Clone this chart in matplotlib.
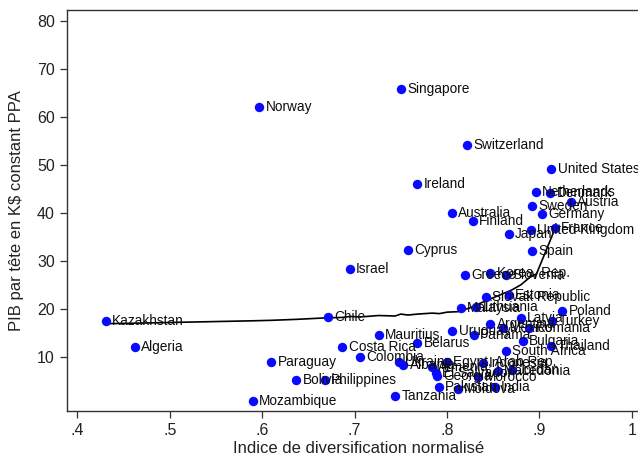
import matplotlib
matplotlib.use("Agg")
import matplotlib.pyplot as plt

# diversification index (x) vs GDP per capita in K$ PPP (y)
countries = [
    "Kazakhstan", "Algeria", "Mozambique", "Norway", "Paraguay", "Bolivia",
    "Philippines", "Chile", "Costa Rica", "Israel", "Colombia", "Mauritius",
    "Tanzania", "Singapore", "Ukraine", "Albania", "Cyprus", "Ireland",
    "Belarus", "Armenia", "El Salvador", "Georgia", "Pakistan",
    "Egypt, Arab Rep.", "Moldova", "Uruguay", "Australia", "Malaysia",
    "Switzerland", "Greece", "Finland", "Panama", "Lithuania", "Indonesia",
    "Morocco", "Slovak Republic", "Argentina", "Korea, Rep.", "India",
    "Jordan", "Mexico", "Slovenia", "South Africa", "Japan", "Estonia",
    "Latvia", "Bulgaria", "Romania", "Macedonia", "United Kingdom", "Spain",
    "Sweden", "Netherlands", "Germany", "United States", "Denmark",
    "Turkey", "Thailand", "France", "Poland", "Austria",
]
diversif = [
    0.431, 0.462, 0.590, 0.597, 0.610, 0.637,
    0.668, 0.671, 0.687, 0.695, 0.706, 0.726,
    0.744, 0.750, 0.748, 0.753, 0.758, 0.768,
    0.768, 0.784, 0.788, 0.789, 0.791,
    0.800, 0.812, 0.806, 0.805, 0.815,
    0.822, 0.820, 0.828, 0.829, 0.832, 0.839,
    0.834, 0.842, 0.847, 0.847, 0.852,
    0.870, 0.861, 0.864, 0.864, 0.867, 0.867,
    0.880, 0.882, 0.889, 0.855, 0.891, 0.892,
    0.892, 0.896, 0.903, 0.913, 0.912,
    0.914, 0.913, 0.917, 0.925, 0.934,
]
pib = [
    17.4, 12.1, 0.8, 62.1, 9.0, 5.2,
    5.2, 18.3, 12.1, 28.4, 10.0, 14.5,
    1.8, 65.9, 9.0, 8.3, 32.2, 46.1,
    12.9, 7.9, 6.6, 5.9, 3.8,
    8.9, 3.2, 15.3, 40.0, 20.1,
    54.2, 27.0, 38.4, 14.5, 20.4, 8.8,
    5.8, 22.5, 16.9, 27.5, 3.8,
    7.2, 16.1, 27.0, 11.2, 35.5, 22.8,
    18.0, 13.3, 15.9, 7.0, 36.5, 32.0,
    41.5, 44.3, 39.8, 49.2, 44.1,
    17.5, 12.3, 36.8, 19.6, 42.2,
]

# smoothed fit, sorted by x
fit_x = [0.431, 0.462, 0.590, 0.610, 0.637, 0.668, 0.687, 0.695, 0.706,
         0.726, 0.744, 0.750, 0.758, 0.768, 0.784, 0.792, 0.800, 0.812,
         0.825, 0.839, 0.855, 0.870, 0.880, 0.890, 0.897, 0.917]
fit_y = [16.9, 17.0, 17.5, 17.6, 17.8, 18.1, 18.2, 18.4, 18.3,
         18.6, 18.5, 18.9, 18.7, 18.9, 19.1, 19.0, 19.3, 19.4,
         20.2, 21.4, 22.7, 23.9, 25.0, 26.6, 27.3, 36.7]

x_ticks = [0.4, 0.5, 0.6, 0.7, 0.8, 0.9, 1.0]
x_labels = [".4", ".5", ".6", ".7", ".8", ".9", "1"]
y_ticks = [10, 20, 30, 40, 50, 60, 70, 80]

plt.rcParams["font.family"] = ["Liberation Sans", "DejaVu Sans"]

fig = plt.figure(figsize=(6.38, 4.57), dpi=100)
ax = fig.add_axes([0.1045, 0.1007, 0.9146, 0.8775])

ax.scatter(diversif, pib, s=46, color="#0a0aff", zorder=3, linewidths=0)
for name, xv, yv in zip(countries, diversif, pib):
    ax.annotate(name, (xv, yv), xytext=(4.5, 0), textcoords="offset points",
                ha="left", va="center", fontsize=9.8, color="#0d0d0d", zorder=4)

ax.plot(fit_x, fit_y, color="black", linewidth=1.2, zorder=2)

ax.set_xlim(0.3885, 1.02)
ax.set_ylim(-1.3, 82.3)
ax.set_xticks(x_ticks)
ax.set_xticklabels(x_labels)
ax.set_yticks(y_ticks)
ax.tick_params(axis="both", direction="out", length=5, width=0.9,
               labelsize=11.5, color="#333333", labelcolor="#222222")
for sp in ax.spines.values():
    sp.set_color("#333333")
    sp.set_linewidth(1.0)

ax.set_xlabel("Indice de diversification normalisé", fontsize=12,
              color="#222222", labelpad=2.5)
ax.set_ylabel("PIB par tête en K$ constant PPA", fontsize=12,
              color="#222222", labelpad=9)

fig.savefig("out.png", dpi=100)
